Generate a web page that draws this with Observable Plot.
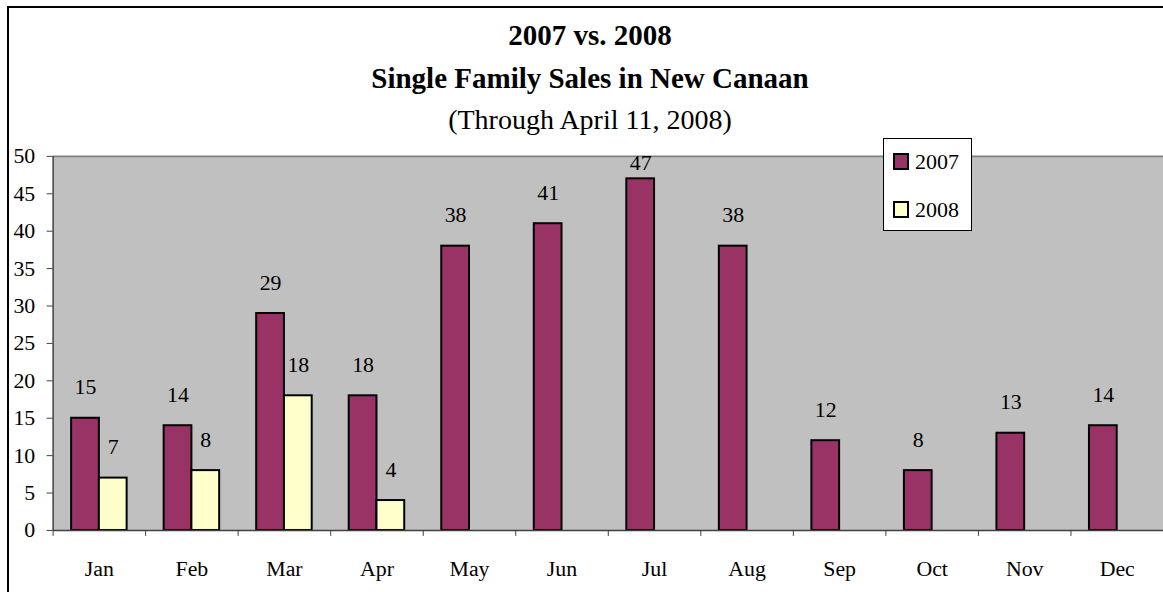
<!DOCTYPE html>
<html>
<head>
<meta charset="utf-8">
<script src="https://cdn.jsdelivr.net/npm/d3@7"></script>
<script src="https://cdn.jsdelivr.net/npm/@observablehq/plot@0.6"></script>
<style>
  html, body { margin: 0; padding: 0; background: #fff; }
  body { width: 1163px; height: 592px; overflow: hidden; position: relative;
         font-family: "Liberation Serif", "Times New Roman", serif; color: #000; }
  #border { position: absolute; left: 7px; top: 6px; width: 1300px; height: 700px;
            border: 2px solid #000; box-sizing: border-box; }
  #title { position: relative; width: 1180px; height: 140px; text-align: center;
           padding-top: 14px; box-sizing: border-box; line-height: 42.5px; }
  #title .l1, #title .l2 { font-weight: bold; font-size: 29px; }
  #title .l3 { font-size: 28px; }
  #chart { position: relative; }
  #chart svg { overflow: visible; display: block; }
  #chart svg text { font-family: "Liberation Serif", "Times New Roman", serif !important; }
  #legend { position: absolute; left: 883px; top: 138px; width: 89px; height: 93px;
            background: #fff; border: 1px solid #000; box-sizing: border-box; }
  .item { position: absolute; left: 9px; font-size: 22px; line-height: 22px; }
  .sw { display: inline-block; width: 16px; height: 17px; border: 2px solid #000;
        box-sizing: border-box; vertical-align: -1px; margin-right: 6px; }
</style>
</head>
<body>
<div id="border"></div>
<div id="title">
  <div class="l1">2007 vs. 2008</div>
  <div class="l2">Single Family Sales in New Canaan</div>
  <div class="l3">(Through April 11, 2008)</div>
</div>
<div id="chart"></div>
<div id="legend"></div>
<script>
const months = ["Jan","Feb","Mar","Apr","May","Jun","Jul","Aug","Sep","Oct","Nov","Dec"];
const sales2007 = [15, 14, 29, 18, 38, 41, 47, 38, 12, 8, 13, 14];
const sales2008 = [7, 8, 18, 4];
const seriesNames = ["2007", "2008"];
const seriesColors = ["#993366", "#FFFFCC"];
const yTicks = [0, 5, 10, 15, 20, 25, 30, 35, 40, 45, 50];

// Build table: each month is a unit band [i, i+1]; the two bars sit side by side in it
const rows = [];
months.forEach((m, i) => {
  rows.push({month: m, i, series: "2007", value: sales2007[i], x1: i + 0.2, x2: i + 0.5});
  if (i < sales2008.length)
    rows.push({month: m, i, series: "2008", value: sales2008[i], x1: i + 0.5, x2: i + 0.8});
});

const font = "Liberation Serif, Times New Roman, serif";

const chart = Plot.plot({
  width: 1172,
  height: 452,
  marginTop: 16,
  marginBottom: 59,
  marginLeft: 53,
  marginRight: 0,
  style: {fontFamily: font, fontSize: "22px", color: "#000", background: "transparent", overflow: "visible"},
  x: {domain: [0, months.length], axis: null},
  y: {domain: [0, 50], axis: null},
  color: {domain: seriesNames, range: seriesColors},
  marks: [
    Plot.frame({fill: "#c0c0c0", stroke: null}),
    Plot.ruleY([50], {stroke: "#808080", strokeWidth: 2}),
    Plot.rectY(rows, {x1: "x1", x2: "x2", y: "value", fill: "series", stroke: "#000", strokeWidth: 2}),
    Plot.text(rows, {
      x: d => (d.x1 + d.x2) / 2,
      y: d => Math.min(d.value, 45),
      dy: -31,
      text: d => String(d.value),
      fontSize: 22,
      fontFamily: font,
      fill: "#000"
    }),
    // y axis
    Plot.axisY({ticks: yTicks, label: null, tickSize: 6, tickPadding: 12, fontSize: 22,
                fontFamily: font, stroke: "#404040", fill: "#000"}),
    Plot.ruleX([0], {stroke: "#404040", strokeWidth: 1.5}),
    // x axis: ticks at month boundaries, labels centred in each month
    Plot.ruleY([0], {stroke: "#404040", strokeWidth: 1.5}),
    Plot.axisX({ticks: d3.range(months.length + 1), label: null, tickSize: 6,
                tickFormat: () => "", stroke: "#404040"}),
    Plot.axisX({ticks: months.map((m, i) => i + 0.5), label: null, tickSize: 0, tickPadding: 30,
                tickFormat: d => months[Math.floor(d)], fontSize: 22, fontFamily: font, fill: "#000"})
  ]
});
document.getElementById("chart").appendChild(chart);

// Legend
const legend = document.getElementById("legend");
seriesNames.forEach((name, k) => {
  const item = document.createElement("div");
  item.className = "item";
  item.style.top = (12 + k * 48) + "px";
  item.innerHTML = `<span class="sw" style="background:${seriesColors[k]}"></span>${name}`;
  legend.appendChild(item);
});
</script>
</body>
</html>
